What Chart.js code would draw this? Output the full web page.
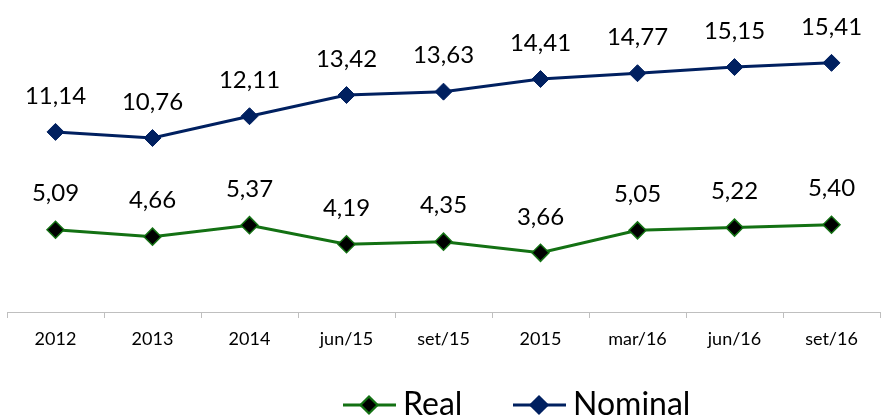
<!DOCTYPE html>
<html>
<head>
<meta charset="utf-8">
<script src="https://cdn.jsdelivr.net/npm/chart.js@4"></script>
<style>
  html, body { margin: 0; padding: 0; background: #fff; }
  #wrap { width: 881px; height: 419px; }
</style>
</head>
<body>
<div id="wrap"><canvas id="chart" width="881" height="419"></canvas></div>
<script>
// values
const periods = ['2012', '2013', '2014', 'jun/15', 'set/15', '2015', 'mar/16', 'jun/16', 'set/16'];
const real = [5.09, 4.66, 5.37, 4.19, 4.35, 3.66, 5.05, 5.22, 5.40];
const nominal = [11.14, 10.76, 12.11, 13.42, 13.63, 14.41, 14.77, 15.15, 15.41];

const GREEN = '#137113';
const NAVY = '#002060';
const FONT = 'Lato, "Open Sans", sans-serif';

// value labels above each point, comma as decimal mark
const valueLabels = {
  id: 'valueLabels',
  afterDatasetsDraw(chart) {
    const ctx = chart.ctx;
    ctx.save();
    ctx.font = '24px ' + FONT;
    ctx.fillStyle = '#000';
    ctx.textAlign = 'center';
    ctx.textBaseline = 'middle';
    chart.data.datasets.forEach((ds, i) => {
      chart.getDatasetMeta(i).data.forEach((pt, j) => {
        ctx.fillText(ds.data[j].toFixed(2).replace('.', ','), pt.x, pt.y - 36);
      });
    });
    ctx.restore();
  }
};

// legend: line with marker, then name
const lineLegend = {
  id: 'lineLegend',
  afterDraw(chart) {
    const ctx = chart.ctx;
    const items = [
      {ds: chart.data.datasets[0], x: 343},
      {ds: chart.data.datasets[1], x: 513}
    ];
    const y = 405;
    ctx.save();
    items.forEach(it => {
      ctx.strokeStyle = it.ds.borderColor;
      ctx.lineWidth = 3;
      ctx.beginPath();
      ctx.moveTo(it.x, y);
      ctx.lineTo(it.x + 53, y);
      ctx.stroke();
      Chart.helpers.drawPoint(ctx, {
        pointStyle: 'rectRot',
        radius: 8,
        borderWidth: it.ds.pointBorderWidth
      }, it.x + 26, y);
      ctx.fillStyle = it.ds.pointBackgroundColor;
      ctx.strokeStyle = it.ds.pointBorderColor;
      ctx.lineWidth = it.ds.pointBorderWidth;
      ctx.fill();
      ctx.stroke();
      ctx.fillStyle = '#000';
      ctx.font = '32px ' + FONT;
      ctx.textBaseline = 'middle';
      ctx.fillText(it.ds.label, it.x + 60, y);
    });
    ctx.restore();
  }
};

const ctx = document.getElementById('chart').getContext('2d');

const myChart = new Chart(ctx, {
  type: 'line',
  data: {
    labels: periods,
    datasets: [
      {
        label: 'Real',
        data: real,
        borderColor: GREEN,
        borderWidth: 3,
        pointStyle: 'rectRot',
        pointRadius: 8.5,
        pointBackgroundColor: '#000',
        pointBorderColor: GREEN,
        pointBorderWidth: 1.5,
        tension: 0
      },
      {
        label: 'Nominal',
        data: nominal,
        borderColor: NAVY,
        borderWidth: 3,
        pointStyle: 'rectRot',
        pointRadius: 8.5,
        pointBackgroundColor: NAVY,
        pointBorderColor: NAVY,
        pointBorderWidth: 1,
        tension: 0
      }
    ]
  },
  options: {
    responsive: false,
    animation: false,
    layout: { autoPadding: false, padding: { left: 7, right: 1, top: 21, bottom: 0 } },
    plugins: {
      legend: { display: false },
      tooltip: { enabled: false }
    },
    scales: {
      x: {
        offset: true,
        afterFit(scale) {
          scale.height = 107;
        },
        grid: {
          offset: true,
          drawOnChartArea: false,
          drawTicks: true,
          tickLength: 6,
          color: '#bfbfbf'
        },
        border: { display: true, color: '#bfbfbf', width: 1 },
        ticks: {
          color: '#000',
          padding: 10,
          font: { family: FONT, size: 18 },
          maxRotation: 0,
          autoSkip: false
        }
      },
      y: {
        display: false,
        min: 0,
        max: 18
      }
    }
  },
  plugins: [valueLabels, lineLegend]
});
</script>
</body>
</html>
